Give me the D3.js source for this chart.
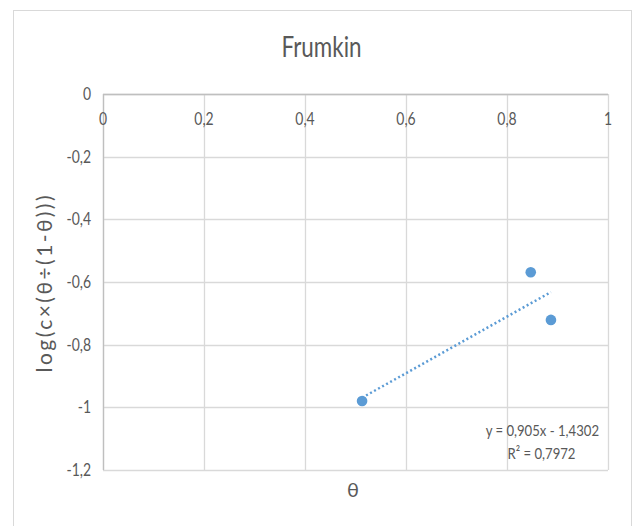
<!DOCTYPE html>
<html><head><meta charset="utf-8">
<script src="https://cdn.jsdelivr.net/npm/d3@7"></script>
<style>
html,body{margin:0;padding:0;background:#fff;}
text{font-family:"Lato","Open Sans",sans-serif;fill:#595959;}
</style></head>
<body><svg id="c" width="634" height="526"></svg>
<script>
const thetaValues = [0.513, 0.847, 0.887];
const logValues = [-0.980, -0.569, -0.721];
const xTicks = [0, 0.2, 0.4, 0.6, 0.8, 1];
const yTicks = [0, -0.2, -0.4, -0.6, -0.8, -1, -1.2];
const titleText = "Frumkin";
const xTitle = "θ";
const yTitle = "log(c×(θ÷(1-θ)))";
const eqText = "y = 0,905x - 1,4302";
const r2Text = "R² = 0,7972";

const svg = d3.select("#c");
const fmt = v => String(v).replace(".", ",");
function condense(sel, f){
  sel.each(function(){
    const L = this.getComputedTextLength();
    d3.select(this).attr("textLength", L*f).attr("lengthAdjust","spacingAndGlyphs");
  });
}

// chart area border
svg.append("rect").attr("x",13.5).attr("y",10.5).attr("width",618).attr("height",530)
  .attr("fill","#fff").attr("stroke","#d9d9d9");

const x = d3.scaleLinear().domain([0,1]).range([103,608]);
const y = d3.scaleLinear().domain([-1.2,0]).range([470,94]);

// gridlines
svg.append("g").selectAll("line").data(xTicks).join("line")
  .attr("x1",d=>Math.round(x(d))+0.5).attr("x2",d=>Math.round(x(d))+0.5)
  .attr("y1",y(0)).attr("y2",y(-1.2)).attr("stroke","#d9d9d9").attr("stroke-width",1.3);
svg.append("g").selectAll("line").data(yTicks).join("line")
  .attr("y1",d=>Math.round(y(d))+0.5).attr("y2",d=>Math.round(y(d))+0.5)
  .attr("x1",x(0)).attr("x2",x(1)).attr("stroke","#d9d9d9").attr("stroke-width",1.3);

// axes lines
svg.append("line").attr("x1",x(0)).attr("x2",x(1)).attr("y1",y(0)+0.5).attr("y2",y(0)+0.5)
  .attr("stroke","#bfbfbf").attr("stroke-width",1.3);
svg.append("line").attr("x1",x(0)+0.5).attr("x2",x(0)+0.5).attr("y1",y(0)).attr("y2",y(-1.2))
  .attr("stroke","#bfbfbf").attr("stroke-width",1.3);

// tick labels
const xt = svg.append("g").selectAll("text").data(xTicks).join("text")
  .attr("x",d=>x(d)).attr("y",125).attr("text-anchor","middle")
  .attr("font-size",17).text(d=>fmt(d));
condense(xt, 0.82);
const yt = svg.append("g").selectAll("text").data(yTicks).join("text")
  .attr("x",91).attr("y",d=>y(d)+6).attr("text-anchor","end")
  .attr("font-size",17).text(d=>fmt(d));
condense(yt, 0.82);

// title
const tt = svg.append("text").attr("x",321.5).attr("y",57).attr("text-anchor","middle")
  .attr("font-size",28).text(titleText);
condense(tt, 0.8);
// axis titles
svg.append("text").attr("x",353).attr("y",497).attr("text-anchor","middle")
  .attr("font-size",20).text(xTitle);
svg.append("text").attr("transform","translate(52,284) rotate(-90)").attr("text-anchor","middle")
  .attr("font-size",21).attr("textLength",177).attr("lengthAdjust","spacing").text(yTitle);

// trendline from least squares
const n = thetaValues.length;
const mx = d3.mean(thetaValues), my = d3.mean(logValues);
let sxy=0,sxx=0;
for(let i=0;i<n;i++){sxy+=(thetaValues[i]-mx)*(logValues[i]-my);sxx+=(thetaValues[i]-mx)**2;}
const slope = sxy/sxx, icpt = my - slope*mx;
const [x0,x1] = d3.extent(thetaValues);
svg.append("line").attr("x1",x(x0)).attr("y1",y(icpt+slope*x0)).attr("x2",x(x1)).attr("y2",y(icpt+slope*x1))
  .attr("stroke","#5b9bd5").attr("stroke-width",2.5).attr("stroke-dasharray","2,2.6");

// points
svg.append("g").selectAll("circle").data(thetaValues).join("circle")
  .attr("cx",(d)=>x(d)).attr("cy",(d,i)=>y(logValues[i])).attr("r",5.3)
  .attr("fill","#5b9bd5");

// equation labels
const e1 = svg.append("text").attr("x",599).attr("y",436).attr("text-anchor","end")
  .attr("font-size",16).text(eqText);
condense(e1, 0.82);
const e2 = svg.append("text").attr("x",541.5).attr("y",459).attr("text-anchor","middle")
  .attr("font-size",16).text(r2Text);
condense(e2, 0.82);
</script></body></html>
